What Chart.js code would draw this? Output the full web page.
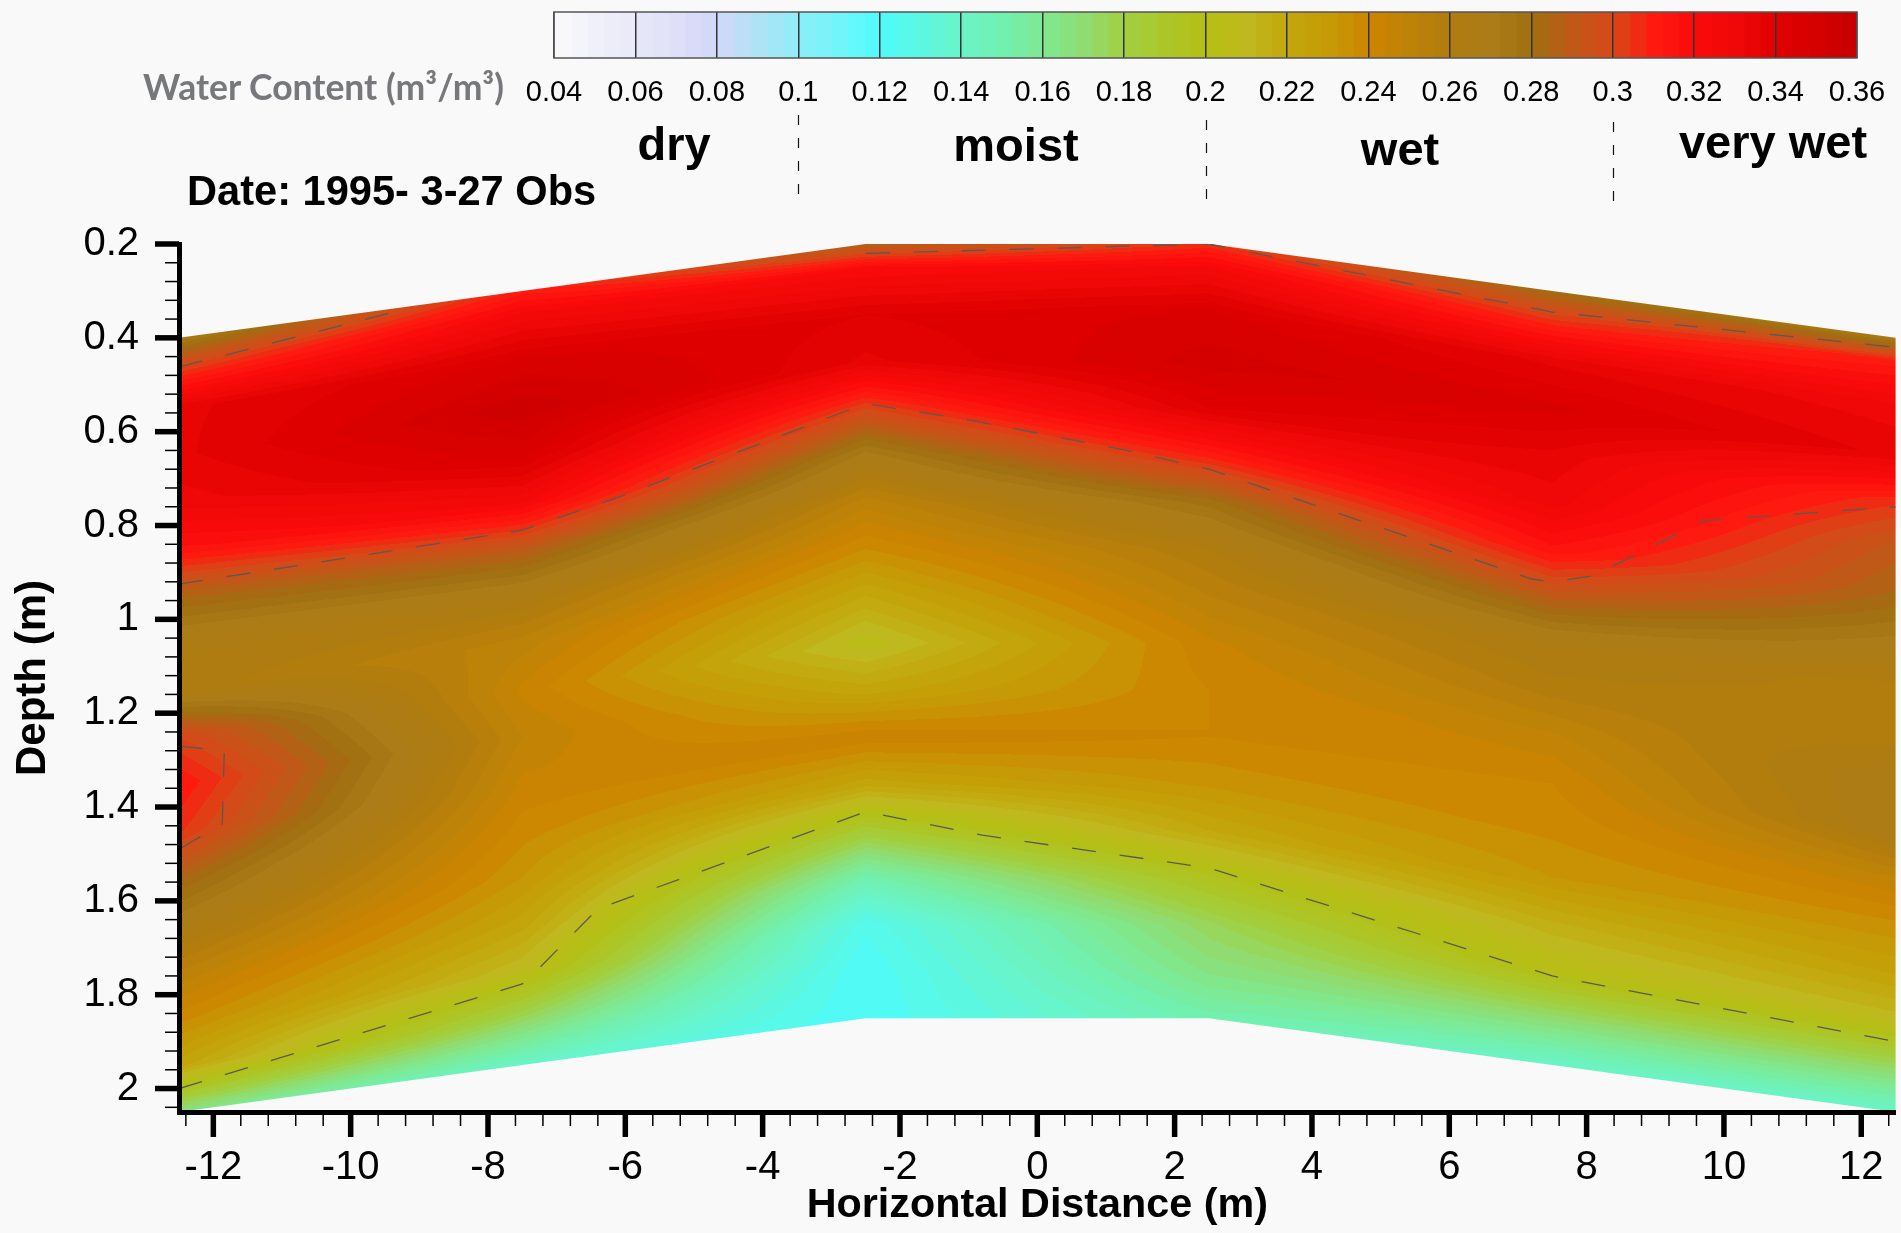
<!DOCTYPE html>
<html>
<head>
<meta charset="utf-8">
<title>Water Content</title>
<script src="https://cdn.jsdelivr.net/npm/chart.js@4/dist/chart.umd.min.js"></script>
<style>
    html, body { margin: 0; padding: 0; background: #f9f9f9; }
    body { position: relative; width: 1901px; height: 1233px; overflow: hidden; }
    canvas { position: absolute; left: 0; top: 0; }
    .txt { position: absolute; font-family: "Liberation Sans", Arial, sans-serif; font-weight: bold;
           color: #000; line-height: 1; white-space: nowrap; }
    #wc-label { left: 143px; top: 69px; font-family: Lato, sans-serif; font-size: 35.5px; color: #77787b; }
    #date-label { left: 187px; top: 170px; font-size: 41.6px; }
    .cls { font-size: 47px; transform: translateX(-50%); }
</style>
</head>
<body>
<canvas id="mainChart" width="1901" height="1233"></canvas>
<canvas id="scaleChart" width="1901" height="210"></canvas>
<div class="txt" id="wc-label">Water Content (m³/m³)</div>
<div class="txt" id="date-label">Date: 1995- 3-27 Obs</div>
<div class="txt cls" style="left:674px;top:120px">dry</div>
<div class="txt cls" style="left:1016px;top:121px">moist</div>
<div class="txt cls" style="left:1400px;top:125px">wet</div>
<div class="txt cls" style="left:1773px;top:118px">very wet</div>
<script>
// Measuring stations along the slope (m)
const stationX = [-12.5, -7.5, -2.5, 2.5, 7.5, 12.5];
// Ground surface depth on the axis at each station (m)
const surfaceDepth = [0.4, 0.3, 0.2, 0.2, 0.3, 0.4];
// Layers, as distance below the surface (m)
const layerOffset = [0, 0.05, 0.15, 0.25, 0.35, 0.45, 0.55, 0.65, 0.75, 0.85, 0.95, 1.05, 1.15, 1.25, 1.35, 1.45, 1.55, 1.65];

// Water content, one list per station, top to bottom
const thetaA = [0.27, 0.295, 0.335, 0.335, 0.33, 0.315, 0.285, 0.265, 0.262, 0.3, 0.312, 0.305, 0.285, 0.268, 0.252, 0.238, 0.222, 0.165];
const thetaB = [0.31, 0.325, 0.345, 0.355, 0.345, 0.325, 0.29, 0.265, 0.25, 0.243, 0.248, 0.243, 0.238, 0.232, 0.222, 0.208, 0.175, 0.14];
const thetaC = [0.285, 0.32, 0.34, 0.335, 0.3, 0.27, 0.25, 0.236, 0.22, 0.205, 0.222, 0.243, 0.222, 0.185, 0.15, 0.125, 0.12, 0.12];
const thetaD = [0.305, 0.325, 0.345, 0.35, 0.34, 0.31, 0.278, 0.26, 0.252, 0.243, 0.24, 0.24, 0.233, 0.22, 0.195, 0.175, 0.165, 0.15];
const thetaE = [0.28, 0.3, 0.335, 0.345, 0.335, 0.33, 0.315, 0.29, 0.265, 0.258, 0.247, 0.24, 0.237, 0.232, 0.215, 0.202, 0.17, 0.14];
const thetaF = [0.27, 0.31, 0.33, 0.335, 0.305, 0.29, 0.283, 0.27, 0.258, 0.258, 0.268, 0.268, 0.248, 0.235, 0.225, 0.21, 0.175, 0.14];
const thetaColumns = [thetaA, thetaB, thetaC, thetaD, thetaE, thetaF];

// Dashed class boundaries drawn on the field
const upperLeftX = [-12.5, -9.1];
const upperLeftDepth = [0.462, 0.335];
const upperRightX = [-2.5, 2.5, 7.5, 12.5];
const upperRightDepth = [0.22, 0.2, 0.345, 0.42];
const middleX = [-12.5, -7.5, -6.1, -2.5, -1, 1.3, 2.5, 7.2, 7.5, 8.1, 9.7, 12.5];
const middleDepth = [0.925, 0.81, 0.74, 0.54, 0.575, 0.64, 0.68, 0.914, 0.92, 0.907, 0.79, 0.76];
const lowerX = [-12.5, -7.5, -7.3, -6.4, -2.5, -0.8, 2.5, 7.5, 12.5];
const lowerDepth = [2.0, 1.777, 1.75, 1.617, 1.41, 1.46, 1.53, 1.76, 1.9];
const blobX = [-12.5, -11.84, -11.87, -12.5];
const blobDepth = [1.27, 1.28, 1.436, 1.49];

// Axis ticks
const xTicks = [-12, -10, -8, -6, -4, -2, 0, 2, 4, 6, 8, 10, 12];
const depthTicks = [0.2, 0.4, 0.6, 0.8, 1, 1.2, 1.4, 1.6, 1.8, 2];
const scaleTicks = [0.04, 0.06, 0.08, 0.1, 0.12, 0.14, 0.16, 0.18, 0.2, 0.22, 0.24, 0.26, 0.28, 0.3, 0.32, 0.34, 0.36];
const classBreaks = [0.1, 0.2, 0.3];

// Colour map picked from the scale bar
const paletteValues = [0.04, 0.048, 0.06, 0.07, 0.08, 0.09, 0.1, 0.11, 0.12, 0.13, 0.14, 0.15, 0.16, 0.17, 0.18, 0.19, 0.2, 0.21, 0.22, 0.23, 0.24, 0.25, 0.26, 0.27, 0.28, 0.29, 0.3, 0.31, 0.32, 0.33, 0.34, 0.36];
const paletteColors = ["#fafafa", "#f2f2fb", "#e8e8f9", "#dfdff8", "#d0d8f8", "#b0e2f6", "#8ceff7", "#70f6fa", "#50fbfc", "#5cf7e0", "#6af4c8", "#72f0b0", "#7ee890", "#90dc70", "#a2cf40", "#acc628", "#b5bf14", "#bfb81e", "#c4a70c", "#c69a06", "#cd8400", "#bd8208", "#b07c10", "#ab7c18", "#a07010", "#c05818", "#d84818", "#ff1a10", "#fa0a0a", "#f00808", "#e00000", "#c80000"];
const bandWidth = 0.004;

function hexToRgb(hex) {
    return [1, 3, 5].map((i) => parseInt(hex.substr(i, 2), 16));
}

// Colour of a value, stepped into bands like the original contour levels
function bandColor(value) {
    const v = (Math.floor(value / bandWidth) + 0.5) * bandWidth;
    let i = 0;
    while (i < paletteValues.length - 2 && v > paletteValues[i + 1]) i++;
    const f = Math.min(1, Math.max(0, (v - paletteValues[i]) / (paletteValues[i + 1] - paletteValues[i])));
    const a = hexToRgb(paletteColors[i]);
    const b = hexToRgb(paletteColors[i + 1]);
    return a.map((c, k) => Math.round(c + (b[k] - c) * f));
}

// Value at a position, bilinear in the grid that follows the slope
function thetaAt(x, depth) {
    let i = 0;
    while (i < stationX.length - 2 && x > stationX[i + 1]) i++;
    const u = Math.min(1, Math.max(0, (x - stationX[i]) / (stationX[i + 1] - stationX[i])));
    const top = surfaceDepth[i] + (surfaceDepth[i + 1] - surfaceDepth[i]) * u;
    const s = depth - top;
    let j = 0;
    while (j < layerOffset.length - 2 && s > layerOffset[j + 1]) j++;
    const t = Math.min(1, Math.max(0, (s - layerOffset[j]) / (layerOffset[j + 1] - layerOffset[j])));
    const c0 = thetaColumns[i];
    const c1 = thetaColumns[i + 1];
    return (c0[j] * (1 - t) + c0[j + 1] * t) * (1 - u) + (c1[j] * (1 - t) + c1[j + 1] * t) * u;
}

// Paints the water content field under the dashed lines
const fieldPlugin = {
    id: "field",
    beforeDatasetsDraw(chart) {
        const { ctx, chartArea: area, scales } = chart;
        const w = Math.ceil(area.right - area.left);
        const h = Math.ceil(area.bottom - area.top);
        const off = document.createElement("canvas");
        off.width = w;
        off.height = h;
        const offCtx = off.getContext("2d");
        const img = offCtx.createImageData(w, h);
        for (let py = 0; py < h; py++) {
            const depth = scales.y.getValueForPixel(area.top + py + 0.5);
            for (let px = 0; px < w; px++) {
                const x = scales.x.getValueForPixel(area.left + px + 0.5);
                const rgb = bandColor(thetaAt(x, depth));
                const k = (py * w + px) * 4;
                img.data[k] = rgb[0];
                img.data[k + 1] = rgb[1];
                img.data[k + 2] = rgb[2];
                img.data[k + 3] = 255;
            }
        }
        offCtx.putImageData(img, 0, 0);

        // Clip to the ground outline so the slopes stay smooth
        const last = layerOffset[layerOffset.length - 1];
        ctx.save();
        ctx.beginPath();
        stationX.forEach((x, i) => {
            ctx.lineTo(scales.x.getPixelForValue(x), scales.y.getPixelForValue(surfaceDepth[i]));
        });
        for (let i = stationX.length - 1; i >= 0; i--) {
            ctx.lineTo(scales.x.getPixelForValue(stationX[i]), scales.y.getPixelForValue(surfaceDepth[i] + last));
        }
        ctx.closePath();
        ctx.clip();
        ctx.drawImage(off, area.left, area.top);
        ctx.restore();
    },
};

// tickLength is not scriptable, so the long and short marks are drawn here
const tickPlugin = {
    id: "tickMarks",
    afterDraw(chart) {
        const { ctx, chartArea: area, scales } = chart;
        ctx.save();
        ctx.strokeStyle = "#000";
        for (let n = -31; n <= 31; n++) {
            const v = n * 0.4;
            const major = n % 5 === 0;
            const px = scales.x.getPixelForValue(v);
            ctx.lineWidth = major ? 5.5 : 1.5;
            ctx.beginPath();
            ctx.moveTo(px, area.bottom);
            ctx.lineTo(px, area.bottom + (major ? 25 : 14));
            ctx.stroke();
        }
        for (let n = 5; n <= 51; n++) {
            const v = n * 0.04;
            const major = n % 5 === 0;
            const py = scales.y.getPixelForValue(v);
            ctx.lineWidth = major ? 5.5 : 1.5;
            ctx.beginPath();
            ctx.moveTo(area.left, py);
            ctx.lineTo(area.left - (major ? 24 : 14), py);
            ctx.stroke();
        }
        ctx.restore();
    },
};

function contourLine(xs, depths) {
    return {
        data: xs.map((x, i) => ({ x: x, y: depths[i] })),
        showLine: true,
        borderColor: "#5a5a50",
        borderWidth: 1.3,
        borderDash: [24, 24],
        pointRadius: 0,
        tension: 0,
    };
}

new Chart(document.getElementById("mainChart").getContext("2d"), {
    type: "scatter",
    data: {
        datasets: [
            contourLine(upperLeftX, upperLeftDepth),
            contourLine(upperRightX, upperRightDepth),
            contourLine(middleX, middleDepth),
            contourLine(lowerX, lowerDepth),
            contourLine(blobX, blobDepth),
        ],
    },
    options: {
        responsive: false,
        animation: false,
        events: [],
        layout: { padding: { top: 244, right: 5.4, left: 0, bottom: 0 } },
        plugins: { legend: { display: false }, tooltip: { enabled: false } },
        scales: {
            x: {
                type: "linear",
                min: -12.5,
                max: 12.5,
                afterFit: (scale) => {
                    scale.height = 121;
                    scale.paddingLeft = 0;
                    scale.paddingRight = 0;
                },
                afterBuildTicks: (scale) => { scale.ticks = xTicks.map((v) => ({ value: v })); },
                grid: { display: false, drawTicks: false },
                border: { display: true, color: "#000", width: 5, z: 1 },
                ticks: {
                    autoSkip: false,
                    maxRotation: 0,
                    padding: 32,
                    color: "#000",
                    font: { family: "Liberation Sans", size: 40 },
                    callback: (v) => String(v),
                },
                title: {
                    display: true,
                    text: "Horizontal Distance (m)",
                    color: "#000",
                    font: { family: "Liberation Sans", size: 41.3, weight: "bold" },
                    padding: { top: 0, bottom: 3 },
                },
            },
            y: {
                type: "linear",
                reverse: true,
                min: 0.2,
                max: 2.05,
                afterFit: (scale) => {
                    scale.width = 179;
                    scale.paddingTop = 0;
                    scale.paddingBottom = 0;
                },
                afterBuildTicks: (scale) => { scale.ticks = depthTicks.map((v) => ({ value: v })); },
                grid: { display: false, drawTicks: false },
                border: { display: true, color: "#000", width: 5, z: 1 },
                ticks: {
                    autoSkip: false,
                    padding: 40,
                    color: "#000",
                    font: { family: "Liberation Sans", size: 40 },
                    callback: (v) => String(+v.toFixed(2)),
                },
                title: {
                    display: true,
                    text: "Depth (m)",
                    color: "#000",
                    font: { family: "Liberation Sans", size: 42, weight: "bold" },
                    padding: { top: 8, bottom: 0 },
                },
            },
        },
    },
    plugins: [fieldPlugin, tickPlugin],
});

// Scale bar: one floating bar per colour band
const bandDatasets = [];
for (let n = 0; n < 80; n++) {
    const lo = paletteValues[0] + n * bandWidth;
    const rgb = bandColor(lo + bandWidth / 2);
    bandDatasets.push({
        data: [[lo, lo + bandWidth + 0.0003]],
        backgroundColor: `rgb(${rgb.join(",")})`,
        borderWidth: 0,
        barPercentage: 1,
        categoryPercentage: 1,
    });
}

// Outline of the bar and the short dashed class dividers below it
const scaleFramePlugin = {
    id: "scaleFrame",
    afterDraw(chart) {
        const { ctx, chartArea: area, scales } = chart;
        ctx.save();
        ctx.strokeStyle = "#555";
        ctx.lineWidth = 1.5;
        ctx.strokeRect(area.left, area.top, area.right - area.left, area.bottom - area.top);
        ctx.strokeStyle = "#111";
        ctx.lineWidth = 1.2;
        ctx.setLineDash([10, 13]);
        const tops = [115, 120, 122];
        classBreaks.forEach((v, i) => {
            const px = Math.round(scales.x.getPixelForValue(v)) + 0.5;
            ctx.beginPath();
            ctx.moveTo(px, tops[i]);
            ctx.lineTo(px, tops[i] + 82);
            ctx.stroke();
        });
        ctx.restore();
    },
};

new Chart(document.getElementById("scaleChart").getContext("2d"), {
    type: "bar",
    data: { labels: ["Water Content"], datasets: bandDatasets },
    options: {
        indexAxis: "y",
        responsive: false,
        animation: false,
        events: [],
        layout: { padding: { top: 12, left: 554, right: 44, bottom: 0 } },
        plugins: { legend: { display: false }, tooltip: { enabled: false } },
        scales: {
            x: {
                type: "linear",
                min: 0.04,
                max: 0.36,
                afterFit: (scale) => {
                    scale.height = 152;
                    scale.paddingLeft = 0;
                    scale.paddingRight = 0;
                },
                afterBuildTicks: (scale) => { scale.ticks = scaleTicks.map((v) => ({ value: v })); },
                grid: { color: "#333", lineWidth: 1.5, drawTicks: false, z: 1 },
                border: { display: false },
                ticks: {
                    autoSkip: false,
                    maxRotation: 0,
                    padding: 18,
                    color: "#000",
                    font: { family: "Liberation Sans", size: 29 },
                    callback: (v) => String(+v.toFixed(2)),
                },
            },
            y: { type: "category", display: false, stacked: false },
        },
        datasets: { bar: { grouped: false } },
    },
    plugins: [scaleFramePlugin],
});
</script>
</body>
</html>
